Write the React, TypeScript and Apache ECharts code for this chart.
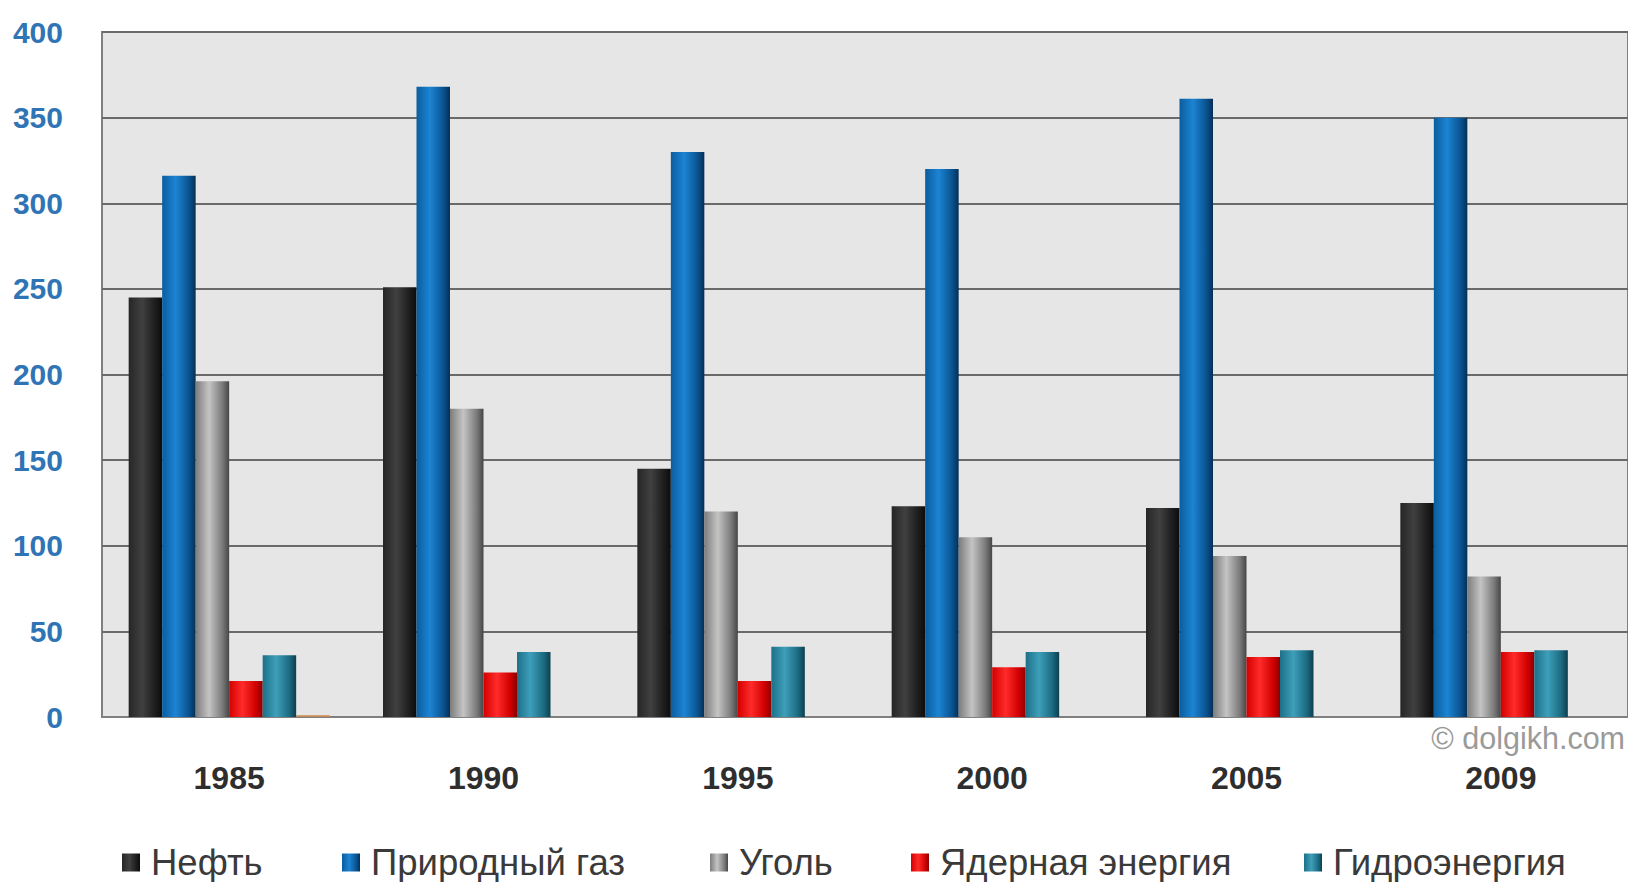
import React, { useEffect, useRef } from "react";
import * as echarts from "echarts";

const years = ["1985", "1990", "1995", "2000", "2005", "2009"];
const seriesNames = ["Нефть", "Природный газ", "Уголь", "Ядерная энергия", "Гидроэнергия"];
const oil = [245, 251, 145, 123, 122, 125];
const gas = [316, 368, 330, 320, 361, 350];
const coal = [196, 180, 120, 105, 94, 82];
const nuclear = [21, 26, 21, 29, 35, 38];
const hydro = [36, 38, 41, 38, 39, 39];
const other = [1, 0, 0, 0, 0, 0];
const yTicks = { min: 0, max: 400, interval: 50 };
const watermark = "© dolgikh.com";

const grad = (stops: string[]) =>
  new echarts.graphic.LinearGradient(0, 0, 1, 0, [
    { offset: 0, color: stops[0] },
    { offset: 0.4, color: stops[1] },
    { offset: 0.8, color: stops[2] },
    { offset: 1, color: stops[3] },
  ]);

export default function App() {
  const ref = useRef<HTMLDivElement>(null);
  useEffect(() => {
    if (!ref.current) return;
    const chart = echarts.init(ref.current, null, { renderer: "svg" });
    const palettes = [
      ["#262626", "#404040", "#1c1c1c", "#0c0c0c"],
      ["#0b5d9e", "#1c84d4", "#0a5390", "#052f55"],
      ["#7c7c7c", "#c4c4c4", "#7a7a7a", "#464646"],
      ["#d40000", "#ff2a2a", "#d00000", "#8a0000"],
      ["#1d7088", "#3e9fba", "#1b6a80", "#0d3f4e"],
    ];
    const values = [oil, gas, coal, nuclear, hydro];
    const legendX = [117, 337, 705, 906, 1299];
    const font = "'Liberation Sans', Arial, sans-serif";
    const series: any[] = seriesNames.map((name, i) => ({
      type: "bar",
      name,
      data: values[i],
      barWidth: 33.5,
      barGap: "0%",
      itemStyle: { color: grad(palettes[i]) },
    }));
    series.push({
      type: "bar",
      name: "Прочие",
      data: other,
      barWidth: 33.5,
      barGap: "0%",
      itemStyle: { color: "#c98a55" },
    });
    chart.setOption({
      animation: false,
      backgroundColor: "#ffffff",
      grid: {
        left: 102,
        right: 0,
        top: 32,
        bottom: 165,
        show: true,
        backgroundColor: "#e6e6e6",
        borderColor: "#808080",
        borderWidth: 2,
      },
      legend: seriesNames.map((n, i) => ({
        data: [{ name: n, icon: "rect" }],
        left: legendX[i],
        top: 839,
        itemWidth: 18,
        itemHeight: 18,
        selectedMode: false,
        textStyle: {
          fontFamily: font,
          fontSize: 36.5,
          color: "#3a3a3a",
          padding: [0, 0, 0, 6],
        },
      })),
      xAxis: {
        type: "category",
        data: years,
        axisLine: { lineStyle: { color: "#808080", width: 2 } },
        axisTick: { show: false },
        axisLabel: {
          margin: 45,
          fontFamily: font,
          fontSize: 32,
          fontWeight: "bold",
          color: "#2e2e2e",
        },
      },
      yAxis: {
        type: "value",
        min: yTicks.min,
        max: yTicks.max,
        interval: yTicks.interval,
        axisLine: { show: false },
        axisTick: { show: false },
        splitLine: { lineStyle: { color: "#6a6a6a", width: 2 } },
        axisLabel: {
          margin: 39,
          fontFamily: font,
          fontSize: 30,
          fontWeight: "bold",
          color: "#2f74b5",
        },
      },
      graphic: [
        {
          type: "text",
          right: 3,
          top: 722,
          style: {
            text: watermark,
            fontFamily: font,
            fontSize: 30.5,
            fill: "#9a9a9a",
          },
        },
      ],
      series,
    });
    return () => chart.dispose();
  }, []);
  return (
    <div
      ref={ref}
      style={{ position: "fixed", left: 0, top: 0, width: 1628, height: 882 }}
    />
  );
}
